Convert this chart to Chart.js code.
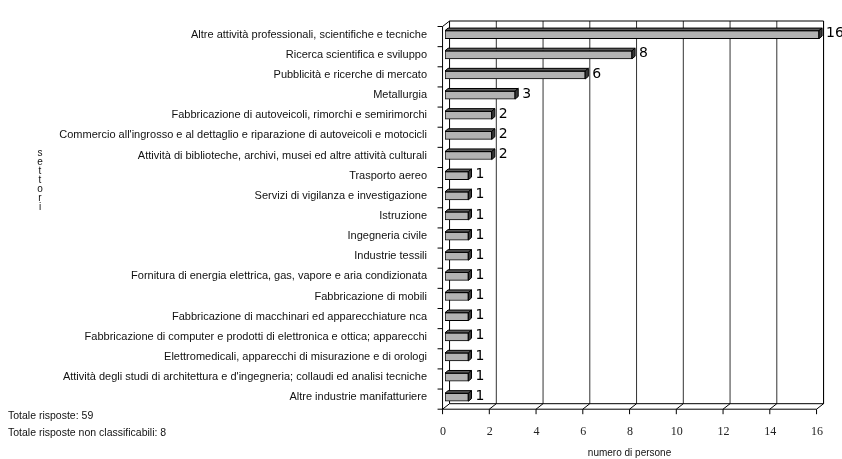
<!DOCTYPE html>
<html>
<head>
<meta charset="utf-8">
<script src="https://cdn.jsdelivr.net/npm/chart.js@4.4.1/dist/chart.umd.min.js"></script>
<style>
  html, body { margin: 0; padding: 0; background: #fff; }
  canvas { display: block; }
</style>
</head>
<body>
<canvas id="grafico" width="842" height="459"></canvas>
<script>
// Settori e numero di persone per settore
const settori = [
  'Altre attività professionali, scientifiche e tecniche',
  'Ricerca scientifica e sviluppo',
  'Pubblicità e ricerche di mercato',
  'Metallurgia',
  'Fabbricazione di autoveicoli, rimorchi e semirimorchi',
  "Commercio all'ingrosso e al dettaglio e riparazione di autoveicoli e motocicli",
  'Attività di biblioteche, archivi, musei ed altre attività culturali',
  'Trasporto aereo',
  'Servizi di vigilanza e investigazione',
  'Istruzione',
  'Ingegneria civile',
  'Industrie tessili',
  'Fornitura di energia elettrica, gas, vapore e aria condizionata',
  'Fabbricazione di mobili',
  'Fabbricazione di macchinari ed apparecchiature nca',
  'Fabbricazione di computer e prodotti di elettronica e ottica; apparecchi',
  'Elettromedicali, apparecchi di misurazione e di orologi',
  "Attività degli studi di architettura e d'ingegneria; collaudi ed analisi tecniche",
  'Altre industrie manifatturiere'
];
const persone = [16, 8, 6, 3, 2, 2, 2, 1, 1, 1, 1, 1, 1, 1, 1, 1, 1, 1, 1];
const tickValori = [0, 2, 4, 6, 8, 10, 12, 14, 16];
const titoloAsseX = 'numero di persone';
const titoloAsseY = 'settori';
const totali = ['Totale risposte: 59', 'Totale risposte non classificabili: 8'];

// Geometria pseudo-3D: piano frontale rispetto al piano delle barre,
// profondità delle pareti e spessore delle barre
const FRONTE = { dx: -2.45, dy: 1.9 };
const PROF = { dx: 7, dy: -5.5 };
const SPESSORE = { dx: 3.1, dy: -2.6 };

const pareti = {
  id: 'pareti',
  beforeDatasetsDraw(chart) {
    const { ctx, chartArea: a, scales } = chart;
    const xs = scales.x;
    const fl = a.left + FRONTE.dx, fr = a.right + FRONTE.dx;
    const ft = a.top + FRONTE.dy, fb = a.bottom + FRONTE.dy;
    const bl = fl + PROF.dx, br = fr + PROF.dx;
    const bt = ft + PROF.dy, bb = fb + PROF.dy;
    const fx = v => xs.getPixelForValue(v) + FRONTE.dx;
    ctx.save();
    ctx.strokeStyle = '#000';
    ctx.lineWidth = 1;
    const linea = (x1, y1, x2, y2) => {
      ctx.beginPath(); ctx.moveTo(x1, y1); ctx.lineTo(x2, y2); ctx.stroke();
    };
    // griglia sulla parete di fondo
    ctx.strokeStyle = '#333';
    tickValori.forEach(v => {
      if (v === 0) return;
      const x = fx(v) + PROF.dx;
      linea(x, bt, x, bb);
    });
    ctx.strokeStyle = '#000';
    // bordi della parete di fondo
    linea(bl, bt, br, bt);
    linea(br, bt, br, bb);
    linea(bl, bt, bl, bb);
    // pavimento
    linea(fl, fb, fr, fb);
    linea(bl, bb, br, bb);
    tickValori.forEach(v => {
      const x = fx(v);
      linea(x, fb, x + PROF.dx, bb);
      linea(x, fb, x, fb + 5);
    });
    // parete sinistra
    linea(fl, ft, fl, fb);
    linea(fl, ft, bl, bt);
    const n = settori.length;
    const banda = (fb - ft) / n;
    for (let k = 0; k <= n; k++) {
      const y = ft + k * banda;
      linea(fl - 5, y, fl, y);
    }
    ctx.restore();
  },
  afterDatasetsDraw(chart) {
    const { ctx } = chart;
    const meta = chart.getDatasetMeta(0);
    ctx.save();
    ctx.lineWidth = 1;
    ctx.strokeStyle = '#000';
    meta.data.forEach((el, i) => {
      const { x, y, base, height } = el.getProps(['x', 'y', 'base', 'height'], true);
      const top = y - height / 2, bot = y + height / 2;
      // faccia superiore
      ctx.fillStyle = '#595959';
      ctx.beginPath();
      ctx.moveTo(base, top);
      ctx.lineTo(x, top);
      ctx.lineTo(x + SPESSORE.dx, top + SPESSORE.dy);
      ctx.lineTo(base + SPESSORE.dx, top + SPESSORE.dy);
      ctx.closePath();
      ctx.fill(); ctx.stroke();
      // faccia laterale
      ctx.fillStyle = '#3a3a3a';
      ctx.beginPath();
      ctx.moveTo(x, top);
      ctx.lineTo(x + SPESSORE.dx, top + SPESSORE.dy);
      ctx.lineTo(x + SPESSORE.dx, bot + SPESSORE.dy);
      ctx.lineTo(x, bot);
      ctx.closePath();
      ctx.fill(); ctx.stroke();
      // etichetta del valore
      ctx.fillStyle = '#000';
      ctx.font = '14px "DejaVu Sans"';
      ctx.textAlign = 'left';
      ctx.textBaseline = 'middle';
      ctx.fillText(String(persone[i]), x + 7, y - 1);
    });
    ctx.restore();
  },
  afterDraw(chart) {
    const { ctx, chartArea: a } = chart;
    ctx.save();
    ctx.fillStyle = '#111';
    ctx.textBaseline = 'middle';
    // titolo asse orizzontale
    ctx.font = '10px "Liberation Sans"';
    ctx.textAlign = 'center';
    ctx.fillText(titoloAsseX, (a.left + a.right) / 2 + FRONTE.dx, 453);
    // titolo asse verticale, lettere in colonna
    ctx.font = '10px "Liberation Sans"';
    [...titoloAsseY].forEach((ch, k) => ctx.fillText(ch, 40, 153 + k * 9));
    // totali
    ctx.textAlign = 'left';
    ctx.font = '10.5px "Liberation Sans"';
    totali.forEach((t, k) => ctx.fillText(t, 8, 416 + k * 17));
    ctx.restore();
  }
};

new Chart(document.getElementById('grafico'), {
  type: 'bar',
  data: {
    labels: settori,
    datasets: [{
      data: persone,
      backgroundColor: '#b3b3b3',
      borderColor: '#000',
      borderWidth: 1,
      borderSkipped: false,
      barThickness: 8
    }]
  },
  options: {
    indexAxis: 'y',
    responsive: false,
    animation: false,
    devicePixelRatio: 1,
    layout: { padding: { top: 16.4, right: 19.4, left: 0, bottom: 0 } },
    plugins: { legend: { display: false }, tooltip: { enabled: false } },
    scales: {
      x: {
        min: 0, max: 16,
        afterFit: s => { s.height = 51.7; },
        afterBuildTicks: s => { s.ticks = tickValori.map(v => ({ value: v })); },
        grid: { display: false, drawTicks: false },
        border: { display: false },
        ticks: {
          padding: 17,
          labelOffset: -2,
          maxRotation: 0,
          autoSkip: false,
          color: '#222',
          font: { family: 'Liberation Serif', size: 12 }
        }
      },
      y: {
        afterFit: s => { s.width = 445; },
        grid: { display: false, drawTicks: false },
        border: { display: false },
        ticks: {
          padding: 18,
          autoSkip: false,
          color: '#111',
          font: { family: 'Liberation Sans', size: 11 }
        }
      }
    }
  },
  plugins: [pareti]
});
</script>
</body>
</html>
